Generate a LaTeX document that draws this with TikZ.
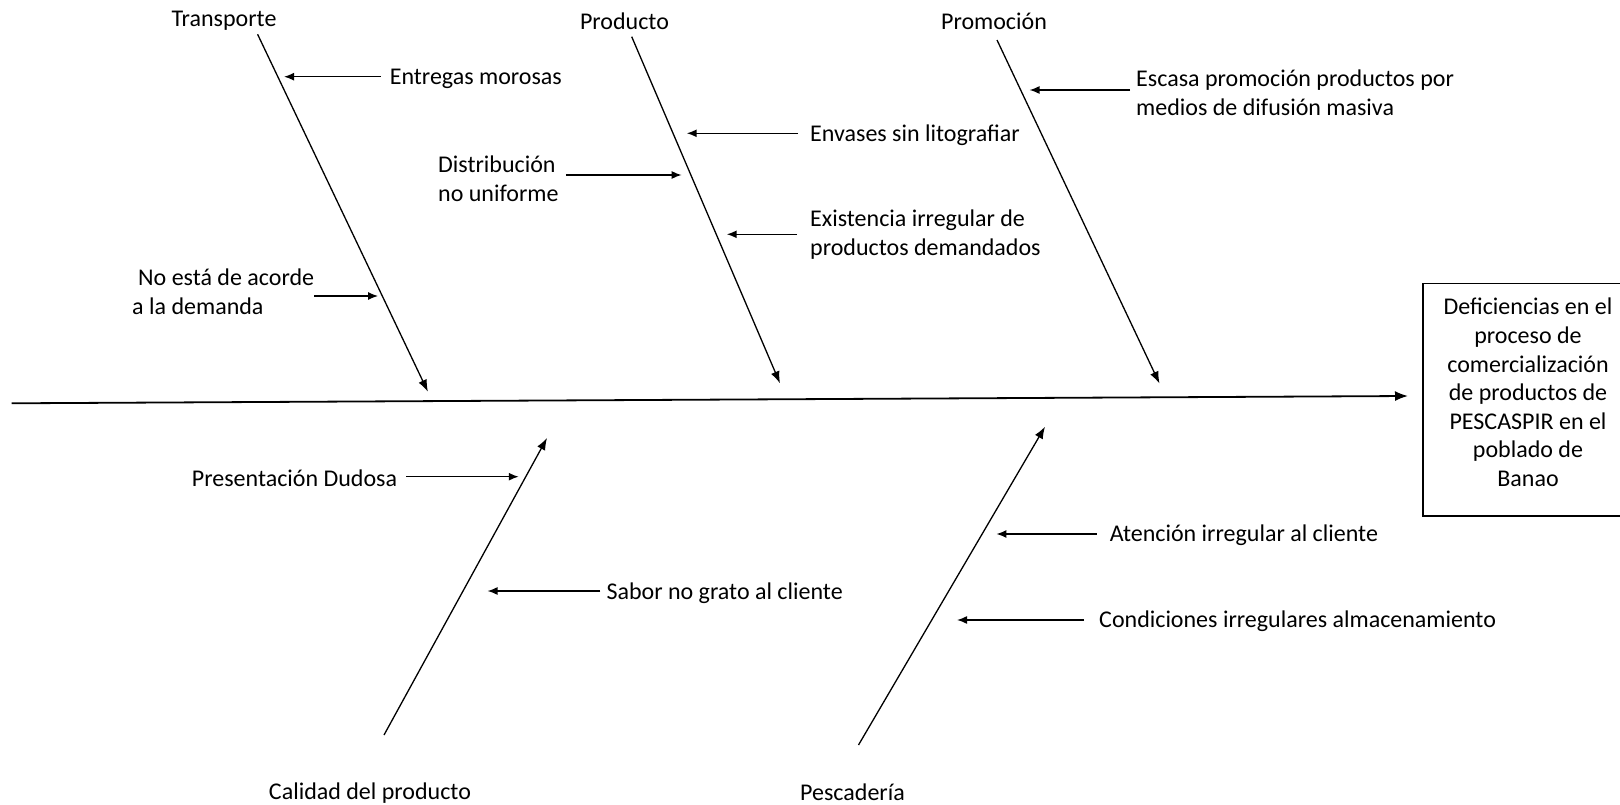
\documentclass[tikz,border=0pt]{standalone}
\usepackage{fontspec}
\setmainfont{Carlito}
\usetikzlibrary{arrows.meta,calc}
\begin{document}
\begin{tikzpicture}[x=1pt,y=-1pt,
  every node/.style={font=\fontsize{24}{28.6}\selectfont, inner sep=0pt, text=black},
  lblw/.style={anchor=west, align=left},
  lble/.style={anchor=east, align=left},
  cat/.style={anchor=center},
  bone/.style={line width=1.3pt, -{Latex[length=12pt,width=9pt]}},
  sub/.style={line width=1.5pt, -{Latex[length=10pt,width=8pt]}},
  spineline/.style={line width=1.8pt, -{Latex[length=13pt,width=10pt]}},
  effectbox/.style={line width=1.5pt}]
\useasboundingbox (0,0) rectangle (1620,805);

% category labels
\node[cat] (transporte) at (224,21) {Transporte};
\node[cat] (producto) at (624.5,21) {Producto};
\node[cat] (promocion) at (994,21) {Promoción};
\node[cat] (calidad) at (370,793) {Calidad del producto};
\node[cat] (pescaderia) at (852.5,792) {Pescadería};

% effect
\node[align=center] (effect) at (1528,392.5) {Deficiencias en el\\proceso de\\comercialización\\de productos de\\PESCASPIR en el\\poblado de\\Banao};
\draw[effectbox] (1423,283.3) rectangle (1650,516);

% spine
\coordinate (tail) at (11.7,403.3);
\coordinate (head) at (1408,396);
\draw[spineline] (tail) -- (head);

% bones
\coordinate (Ta) at (257.6,34.3);  \coordinate (Tb) at (427.9,391.7);
\coordinate (Pa) at (631.7,36.7);  \coordinate (Pb) at (780,383.3);
\coordinate (Ma) at (997,40);      \coordinate (Mb) at (1159.5,383.5);
\coordinate (Ca) at (384,735);     \coordinate (Cb) at (547,438);
\coordinate (Sa) at (858.5,745);   \coordinate (Sb) at (1045,426.7);
\draw[bone] (Ta) -- (Tb);
\draw[bone] (Pa) -- (Pb);
\draw[bone] (Ma) -- (Mb);
\draw[bone] (Ca) -- (Cb);
\draw[bone] (Sa) -- (Sb);

% cause labels
\node[lblw] (entregas) at (389.6,79) {Entregas morosas};
\node[lblw] (noesta) at (132,292) {\hspace*{6pt}No está de acorde\\a la demanda};
\node[lblw] (envases) at (810,135) {Envases sin litografiar};
\node[lblw] (distrib) at (438,178.6) {Distribución\\no uniforme};
\node[lblw] (existencia) at (810,234.6) {Existencia irregular de\\productos demandados};
\node[lblw] (escasa) at (1136,92.8) {Escasa promoción productos por\\medios de difusión masiva};
\node[lble] (presentacion) at (397.3,478.3) {Presentación Dudosa};
\node[lblw] (sabor) at (606.3,593.3) {Sabor no grato al cliente};
\node[lblw] (atencion) at (1109.6,535.7) {Atención irregular al cliente};
\node[lblw] (condiciones) at (1099,621) {Condiciones irregulares almacenamiento};

% arrow tips
\coordinate (t1) at (284,76.7);
\coordinate (t2) at (378.1,296);
\coordinate (t3) at (686.7,133.3);
\coordinate (t4) at (681.7,175);
\coordinate (t5) at (726.7,234.3);
\coordinate (t6) at (1029.5,90);
\coordinate (t7) at (518.8,476.7);
\coordinate (t8) at (487.5,591);
\coordinate (t9) at (996.4,534);
\coordinate (t10) at (957,620);

\draw[sub, shorten <=9pt] (entregas.west |- t1) -- (t1);
\draw[sub] (noesta.east |- t2) -- (t2);
\draw[sub, shorten <=12pt] (envases.west |- t3) -- (t3);
\draw[sub, shorten <=7pt] (distrib.east |- t4) -- (t4);
\draw[sub, shorten <=13pt] (existencia.west |- t5) -- (t5);
\draw[sub, shorten <=6pt] (escasa.west |- t6) -- (t6);
\draw[sub, shorten <=9pt] (presentacion.east |- t7) -- (t7);
\draw[sub, shorten <=6pt] (sabor.west |- t8) -- (t8);
\draw[sub, shorten <=13pt] (atencion.west |- t9) -- (t9);
\draw[sub, shorten <=15pt] (condiciones.west |- t10) -- (t10);
\end{tikzpicture}
\end{document}
